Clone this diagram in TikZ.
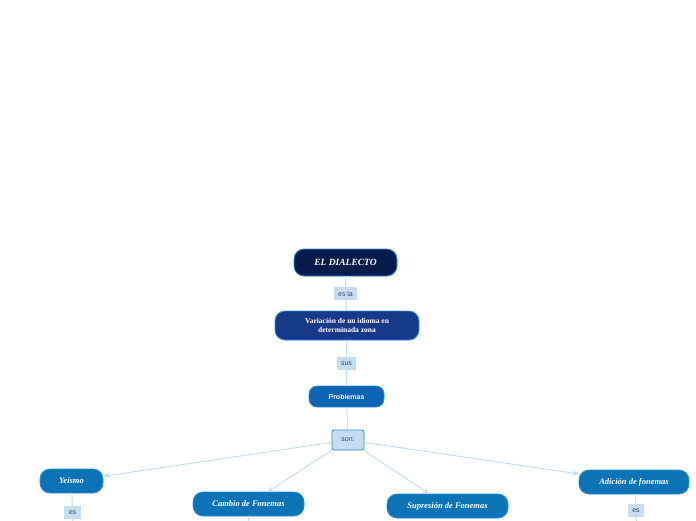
\documentclass[tikz,border=0pt]{standalone}
\usepackage{fontspec}
\setmainfont{Liberation Serif}
\setsansfont{Liberation Sans}
\usetikzlibrary{arrows.meta}
\definecolor{navy}{HTML}{041C4A}
\definecolor{deepblue}{HTML}{17398A}
\definecolor{midblue}{HTML}{0E63B3}
\definecolor{topicblue}{HTML}{0B73B6}
\definecolor{edgeblue}{HTML}{2C8FD8}
\definecolor{linkblue}{HTML}{C6DDF1}
\definecolor{labeltext}{HTML}{3B4B5C}

\begin{document}
\begin{tikzpicture}[x=1pt,y=-1pt,
    pill/.style={draw=edgeblue, line width=0.8pt, rounded corners=10pt, text=white, inner sep=0pt, align=center},
    topic/.style={pill, fill=topicblue, minimum height=24pt, font=\fontsize{8.5}{9}\selectfont\bfseries\itshape},
    linklabel/.style={fill=linkblue, text=labeltext, inner sep=0pt, minimum height=13pt, font=\sffamily\fontsize{7}{8}\selectfont},
    link/.style={draw=linkblue, line width=1pt},
    arrowlink/.style={link, -{Stealth[length=6pt,width=6pt]}}]
    \useasboundingbox (0,0) rectangle (696,520);
    % Main chain
    \node[pill, fill=navy, minimum width=103pt, minimum height=27pt, font=\fontsize{9.5}{10}\selectfont\bfseries\itshape] (dialecto) at (345.5,262.5) {EL DIALECTO};
    \node[linklabel, minimum width=23pt] (esla) at (345.5,293.5) {es la};
    \node[pill, fill=deepblue, minimum width=144pt, minimum height=29pt, font=\fontsize{7.5}{8.5}\selectfont\bfseries] (variacion) at (347,325.5) {Variación de un idioma en\\determinada zona};
    \node[linklabel, minimum width=19pt] (sus) at (346.5,363.5) {sus};
    \node[pill, fill=midblue, rounded corners=8pt, minimum width=75pt, minimum height=21pt, font=\sffamily\fontsize{7}{8}\selectfont\bfseries] (problemas) at (346.5,396.5) {Problemas};
    \node[draw=edgeblue, fill=linkblue, line width=0.8pt, rounded corners=2pt, minimum width=32pt, minimum height=20pt, inner sep=0pt, text=labeltext, font=\sffamily\fontsize{7}{8}\selectfont] (son) at (348,440) {son:};
    \draw[link] (dialecto) -- (esla) -- (variacion) -- (sus) -- (problemas) -- (son);
    % Kinds of problems
    \node[topic, minimum width=63pt] (yeismo) at (71.5,481) {Yeísmo};
    \node[topic, minimum width=111pt] (cambio) at (248.5,504) {Cambio de Fonemas};
    \node[topic, minimum width=121pt] (supresion) at (447.5,506) {Supresión de Fonemas};
    \node[topic, minimum width=110pt] (adicion) at (634,482) {Adición de fonemas};
    \foreach \kind in {yeismo,cambio,supresion,adicion}
        \draw[arrowlink] (son) -- (\kind);
    % Links running off the page
    \node[linklabel, minimum width=17pt] (esA) at (72.5,512.5) {es};
    \node[linklabel, minimum width=16pt] (esB) at (636,510.5) {es};
    \coordinate (endA) at (73,530);
    \coordinate (endB) at (636.5,530);
    \coordinate (endC) at (248.5,530);
    \draw[link] (yeismo) -- (esA) -- (endA);
    \draw[link] (adicion) -- (esB) -- (endB);
    \draw[link] (cambio) -- (endC);
\end{tikzpicture}
\end{document}
